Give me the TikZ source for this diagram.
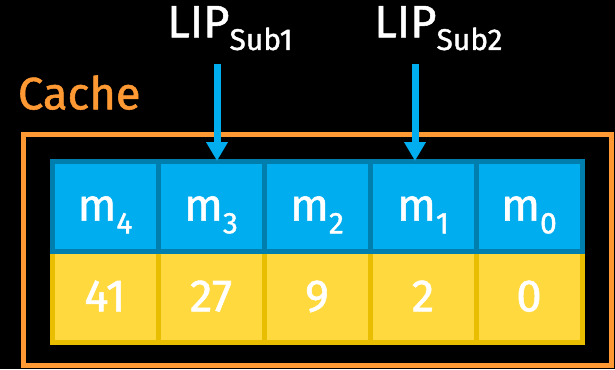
\documentclass[tikz,border=0pt]{standalone}
\usepackage{fontspec}
\setmainfont{Fira Sans}[FakeBold=1.2]
\usepackage{xcolor}
\usetikzlibrary{positioning,arrows.meta,fit}

\definecolor{keyblue}{RGB}{0,174,239}
\definecolor{keyedge}{RGB}{0,126,174}
\definecolor{valyellow}{RGB}{255,217,61}
\definecolor{valedge}{RGB}{234,190,0}
\definecolor{cacheorange}{RGB}{255,153,51}

\newcommand{\lowsub}[1]{\raisebox{-9.5pt}{\fontsize{22.5}{26}\selectfont #1}}

\begin{document}
\begin{tikzpicture}[
        x=0.75pt, y=-0.75pt,
        cell/.style={rectangle, draw, line width=3.75pt, minimum width=79.5pt, minimum height=68pt, inner sep=0pt, outer sep=0pt, text=white, font=\fontsize{34}{40}\selectfont, text height=21.5pt, text depth=0pt},
        key/.style={cell, fill=keyblue, draw=keyedge},
        val/.style={cell, fill=valyellow, draw=valedge},
        lip/.style={anchor=base west, inner sep=0pt, text=white, font=\fontsize{34}{40}\selectfont},
        ptr/.style={-{Triangle[width=15.5pt,length=14.25pt]}, line width=5.25pt, draw=keyblue},
        frame/.style={rectangle, draw=cacheorange, line width=3.75pt, inner sep=0pt, outer sep=0pt}
    ]
        % Background
        \fill[black] (0,0) rectangle (615,369);
        \useasboundingbox (0,0) rectangle (615,369);

        % Values
        \node[val] (v4) at (105,297) {41};
        \node[val, right=0pt of v4] (v3) {27};
        \node[val, right=0pt of v3] (v2) {9};
        \node[val, right=0pt of v2] (v1) {2};
        \node[val, right=0pt of v1] (v0) {0};

        % Keys
        \node[key, above=0pt of v4] (m4) {m\lowsub{4}};
        \node[key, above=0pt of v3] (m3) {m\lowsub{3}};
        \node[key, above=0pt of v2] (m2) {m\lowsub{2}};
        \node[key, above=0pt of v1] (m1) {m\lowsub{1}};
        \node[key, above=0pt of v0] (m0) {m\lowsub{0}};

        % Cache frame
        \coordinate (fnw) at ([shift={(-29,-27)}]m4.north west);
        \coordinate (fse) at ([shift={(29,23)}]v0.south east);
        \node[frame, fit=(fnw)(fse)] (cache) {};
        \node[anchor=base west, inner sep=0pt, text=cacheorange, font=\fontsize{34}{40}\selectfont] (cachelbl) at ([shift={(-5.3,-24.7)}]cache.north west) {Cache};

        % Pointers
        \node[lip] (lip1) at (167,37.3) {LIP\lowsub{Sub1}};
        \node[lip] (lip2) at (374,37.3) {LIP\lowsub{Sub2}};
        \coordinate (p1) at (217,64);
        \coordinate (p2) at (415,64);
        \draw[ptr] (p1) -- (p1 |- m3.north);
        \draw[ptr] (p2) -- (p2 |- m1.north);
\end{tikzpicture}
\end{document}
